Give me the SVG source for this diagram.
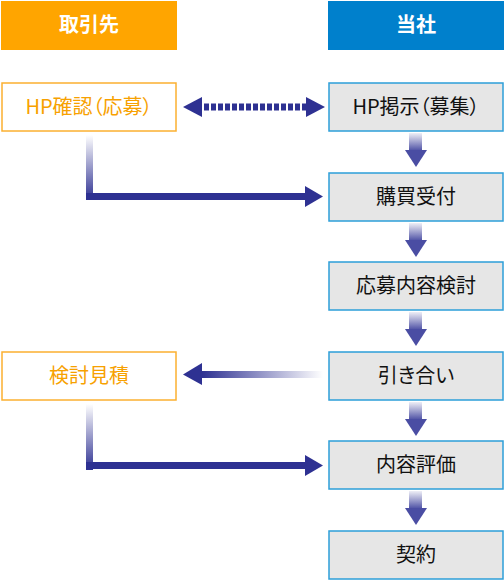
<svg xmlns="http://www.w3.org/2000/svg" width="504" height="585" viewBox="0 0 504 585">
<style>
text{font-family:"Noto Sans CJK JP",sans-serif;font-feature-settings:"palt";text-anchor:middle}
.hdr{font-size:20px;font-weight:bold;fill:#fff}
.lt{font-size:20px;fill:#f7a100}
.rt{font-size:20px;fill:#111}
.lbox{fill:#fff;stroke:#fbb030;stroke-width:1.5}
.rbox{fill:#e6e6e6;stroke:#2d9fd9;stroke-width:1.5}
.dk{fill:#2e3192}
</style>
<defs>
<linearGradient id="gv" x1="0" y1="0" x2="0" y2="1">
<stop offset="0" stop-color="#2e3192" stop-opacity="0"/>
<stop offset="1" stop-color="#2e3192"/>
</linearGradient>
<linearGradient id="gh" x1="0" y1="0" x2="1" y2="0">
<stop offset="0" stop-color="#2e3192"/>
<stop offset="1" stop-color="#2e3192" stop-opacity="0"/>
</linearGradient>
<linearGradient id="gd" x1="0" y1="0" x2="0" y2="1">
<stop offset="0" stop-color="#5457a8" stop-opacity="0.1"/>
<stop offset="1" stop-color="#4a4da3"/>
</linearGradient>
</defs>
<g id="hdr-left"><rect x="1" y="1" width="176" height="49" fill="#ffa500"/><text class="hdr" x="89" y="32">取引先</text></g>
<g id="hdr-right"><rect x="328" y="1" width="176" height="49" fill="#0080cc"/><text class="hdr" x="416" y="32">当社</text></g>
<g id="n-hp-confirm"><rect class="lbox" x="2" y="83" width="174" height="48"/><text class="lt" x="89" y="114">HP確認（応募）</text></g>
<g id="n-estimate"><rect class="lbox" x="2" y="352" width="174" height="48"/><text class="lt" x="89" y="383">検討見積</text></g>
<g id="n-hp-post"><rect class="rbox" x="329" y="83" width="174" height="48"/><text class="rt" x="416" y="114">HP掲示（募集）</text></g>
<g id="n-purchase"><rect class="rbox" x="329" y="173" width="174" height="48"/><text class="rt" x="416" y="204">購買受付</text></g>
<g id="n-review"><rect class="rbox" x="329" y="262" width="174" height="48"/><text class="rt" x="416" y="293">応募内容検討</text></g>
<g id="n-negotiate"><rect class="rbox" x="329" y="352" width="174" height="48"/><text class="rt" x="416" y="383">引き合い</text></g>
<g id="n-evaluate"><rect class="rbox" x="329" y="441" width="174" height="48"/><text class="rt" x="416" y="472">内容評価</text></g>
<g id="n-contract"><rect class="rbox" x="329" y="531" width="174" height="48"/><text class="rt" x="416" y="562">契約</text></g>
<g id="connectors">
<polygon class="dk" points="183,107 202,97 202,117"/>
<line x1="204" y1="107" x2="306" y2="107" stroke="#2e3192" stroke-width="7" stroke-dasharray="5,2"/>
<polygon class="dk" points="325,107 306,97 306,117"/>
<rect x="86" y="135" width="7" height="65" fill="url(#gv)"/>
<rect x="86" y="193" width="220" height="7" class="dk"/>
<polygon class="dk" points="323,196.5 305,186 305,207"/>
<rect x="86" y="404" width="7" height="66" fill="url(#gv)"/>
<rect x="86" y="462" width="220" height="7" class="dk"/>
<polygon class="dk" points="323,465.5 305,455 305,476"/>
<rect x="202" y="371" width="121" height="7" fill="url(#gh)"/>
<polygon class="dk" points="183,374.5 202,363 202,385"/>
<g>
<rect x="409" y="133" width="13" height="18" fill="url(#gd)"/><polygon points="405,150 427,150 416,167" fill="#4a4da3"/>
<rect x="409" y="223" width="13" height="18" fill="url(#gd)"/><polygon points="405,240 427,240 416,257" fill="#4a4da3"/>
<rect x="409" y="312" width="13" height="18" fill="url(#gd)"/><polygon points="405,329 427,329 416,346" fill="#4a4da3"/>
<rect x="409" y="402" width="13" height="18" fill="url(#gd)"/><polygon points="405,419 427,419 416,436" fill="#4a4da3"/>
<rect x="409" y="491" width="13" height="18" fill="url(#gd)"/><polygon points="405,508 427,508 416,525" fill="#4a4da3"/>
</g>
</g>
</svg>
